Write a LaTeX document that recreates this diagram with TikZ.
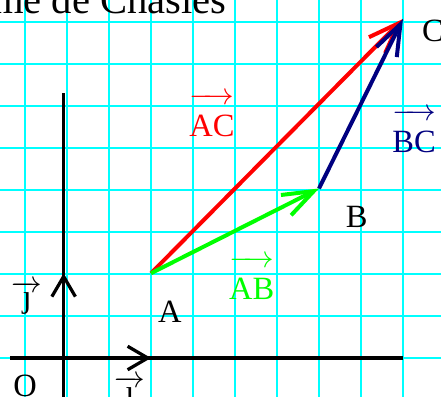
\documentclass[tikz,border=0pt]{standalone}
\usepackage{amsmath}
\usepackage{fontspec}
\setmainfont{Liberation Serif}
\usetikzlibrary{arrows.meta}
\definecolor{sky}{HTML}{00FFFF}
\definecolor{vred}{HTML}{FF0000}
\definecolor{vgreen}{HTML}{00FF00}
\definecolor{vnavy}{HTML}{000080}
\newcommand{\vlab}[1]{$\overrightarrow{\rule{0pt}{1.0em}\text{#1}}$}
\newcommand{\ulab}[1]{$\overrightarrow{\text{#1}}$}
\tikzset{
  gridline/.style={sky,line width=1.35pt},
  axis/.style={black,line width=2.2pt},
  unitarrow/.style={-{Straight Barb[length=4.8mm,width=5.6mm]},black,line width=2.2pt},
  vecarrow/.style={-{Straight Barb[length=7.4mm,width=5.4mm]},line width=2.7pt,#1},
  lbl/.style={inner sep=0pt,anchor=base,font=\fontsize{22}{26}\selectfont},
}

\begin{document}
\begin{tikzpicture}[x=1cm,y=1.009cm]
\useasboundingbox (-1.595,-0.920) rectangle (8.905,8.448);
\clip (-1.595,-0.920) rectangle (8.905,8.448);
\draw[gridline] (-2,-1) grid (9,9);
\node[lbl,anchor=base east,font=\fontsize{27.5}{32}\selectfont] (ttl) at (3.81,8.12) {Théorème de Chasles};
% points
\coordinate (O) at (-0.08,0);
\coordinate (I) at (2,0);
\coordinate (J) at (-0.08,2);
\coordinate (A) at (2,2);
\coordinate (B) at (6,4);
\coordinate (C) at (8,8);
% axes
\coordinate (xl) at (-1.36,0);
\coordinate (xr) at (8,0);
\coordinate (yb) at (-0.08,-1);
\coordinate (yt) at (-0.08,6.25);
\draw[axis] (xl) -- (xr);
\draw[axis] (yb) -- (yt);
\draw[unitarrow] (O) -- (I);
\draw[unitarrow] (O) -- (J);
% vectors
\draw[vecarrow=vred] (A) -- (C);
\draw[vecarrow=vgreen] (A) -- (B);
\draw[vecarrow=vnavy] (B) -- (C);
% labels
\node[lbl] (la) at (2.45,0.83) {A};
\node[lbl] (lb) at (6.90,3.09) {B};
\node[lbl,anchor=base west] (lc) at (8.45,7.46) {C};
\node[lbl] (lo) at (-1.0,-0.92) {O};
\node[lbl] (li) at (1.5,-1.04) {\ulab{ı}};
\node[lbl] (lj) at (-0.95,1.20) {\ulab{ȷ}};
\node[lbl,vred] (lac) at (3.45,5.22) {\vlab{AC}};
\node[lbl,vgreen] (lab) at (4.40,1.37) {\vlab{AB}};
\node[lbl,vnavy,anchor=base west] (lbc) at (7.74,4.84) {\vlab{BC}};
\end{tikzpicture}
\end{document}
